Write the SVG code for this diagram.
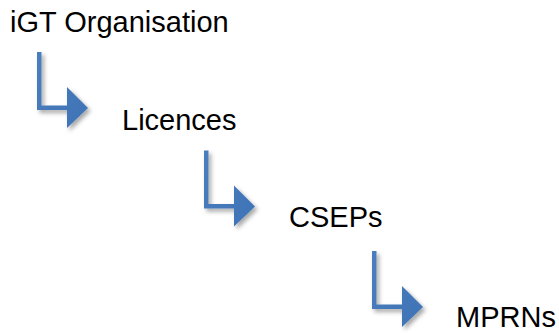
<svg xmlns="http://www.w3.org/2000/svg" width="559" height="333" viewBox="0 0 559 333">
  <style>
    .label { font-family: "Liberation Sans", Arial, sans-serif; font-size: 29px; fill: #000000; }
    .arrow { fill: url(#arrowFill); filter: url(#shadow); }
  </style>
  <defs>
    <linearGradient id="arrowFill" x1="0" y1="0" x2="1" y2="1">
      <stop offset="0" stop-color="#4a7ebd"/>
      <stop offset="1" stop-color="#3f73b6"/>
    </linearGradient>
    <filter id="shadow" x="-30%" y="-30%" width="170%" height="170%">
      <feDropShadow dx="2.5" dy="3" stdDeviation="2.2" flood-color="#000000" flood-opacity="0.35"/>
    </filter>
    <path id="bentArrow" d="M37,52 H41.5 V105.5 H67 V87 L88,108 L67,128 V110 H37 Z"/>
  </defs>
  <rect width="559" height="333" fill="#ffffff"/>
  <g id="connectors">
    <use href="#bentArrow" class="arrow"/>
    <use href="#bentArrow" class="arrow" transform="translate(167,98.5)"/>
    <use href="#bentArrow" class="arrow" transform="translate(335,199)"/>
  </g>
  <g id="node-igt"><text class="label" x="10" y="32">iGT Organisation</text></g>
  <g id="node-licences"><text class="label" x="122" y="130">Licences</text></g>
  <g id="node-cseps"><text class="label" x="289" y="227">CSEPs</text></g>
  <g id="node-mprns"><text class="label" x="456" y="327">MPRNs</text></g>
</svg>
